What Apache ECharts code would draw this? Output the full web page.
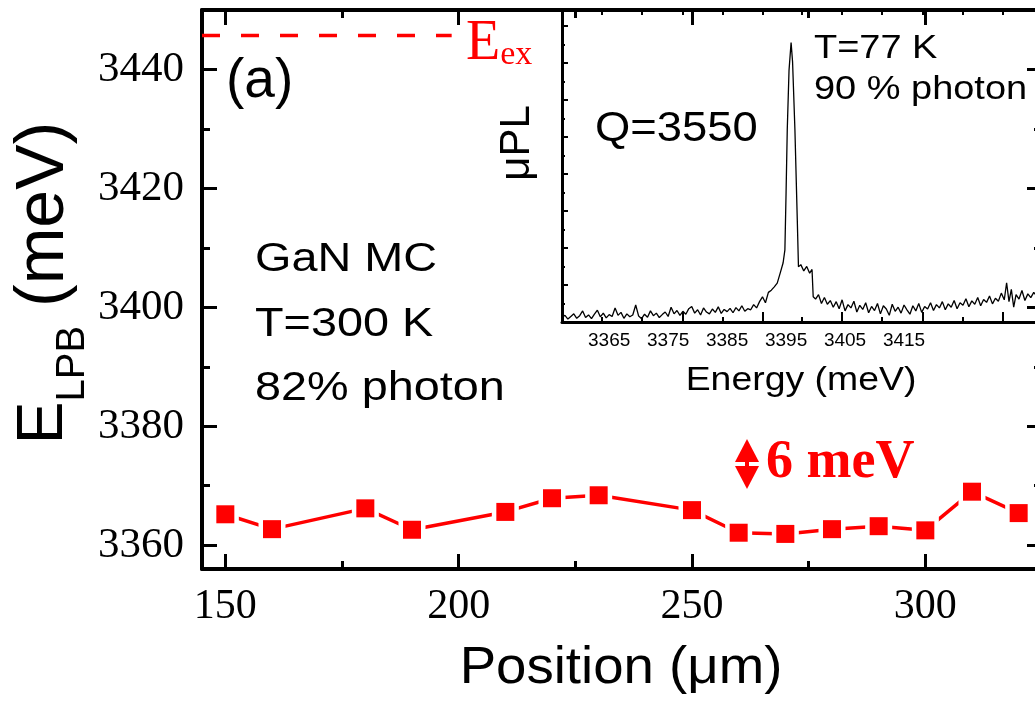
<!DOCTYPE html>
<html><head><meta charset="utf-8">
<script src="https://cdn.jsdelivr.net/npm/echarts@6/dist/echarts.min.js"></script>
<style>html,body{margin:0;padding:0;background:#fff}#c{width:1035px;height:701px}</style>
</head><body><div id="c"></div>
<script>
// ---- main panel data ----
const positions = [150,160,180,190,210,220,230,250,260,270,280,290,300,310,320];
const lpbEnergies = [3365.2,3362.7,3366.2,3362.6,3365.6,3367.9,3368.4,3365.9,3362.1,3361.9,3362.7,3363.2,3362.5,3369.0,3365.4];
const excitonEnergy = 3445.7;
const excitonLineX = [145, 198.5];
const xMajorTicks = [150,200,250,300];
const xMinorTicks = [175,225,275];
const yMajorTicks = [3360,3380,3400,3420,3440];
const yMinorTicks = [3370,3390,3410,3430];
// ---- inset spectrum data ----
const specEnergy = [
3357.0,3357.5,3358.0,3358.5,3359.0,3359.5,3360.0,3360.5,3361.0,3361.5,3362.0,3362.5,3363.0,3363.5,3364.0,3364.5,3365.0,3365.5,3366.0,3366.5,
3367.0,3367.5,3368.0,3368.5,3369.0,3369.5,3370.0,3370.5,3371.0,3371.5,3372.0,3372.5,3373.0,3373.5,3374.0,3374.5,3375.0,3375.5,3376.0,3376.5,
3377.0,3377.5,3378.0,3378.5,3379.0,3379.5,3380.0,3380.5,3381.0,3381.5,3382.0,3382.5,3383.0,3383.5,3384.0,3384.5,3385.0,3385.5,3386.0,3386.5,
3387.0,3387.5,3388.0,3388.5,3389.0,3389.5,3390.0,3390.5,3391.0,3391.5,3392.0,3392.5,3393.0,3393.5,3394.0,3394.5,3394.8,3395.0,3395.2,3395.5,
3395.85,3396.1,3396.5,3396.9,3397.1,3397.5,3398.0,3398.5,3399.0,3399.4,3399.6,3400.0,3400.5,3401.0,3401.5,3402.0,3402.5,3403.0,3403.5,3404.0,
3404.5,3405.0,3405.5,3406.0,3406.5,3407.0,3407.5,3408.0,3408.5,3409.0,3409.5,3410.0,3410.5,3411.0,3411.5,3412.0,3412.5,3413.0,3413.5,3414.0,
3414.5,3415.0,3415.5,3416.0,3416.5,3417.0,3417.5,3418.0,3418.5,3419.0,3419.5,3420.0,3420.5,3421.0,3421.5,3422.0,3422.5,3423.0,3423.5,3424.0,
3424.5,3425.0,3425.5,3426.0,3426.5,3427.0,3427.5,3428.0,3428.5,3429.0,3429.5,3430.0,3430.5,3431.0,3431.5,3432.0,3432.4,3432.8,3433.2,3433.6,
3434.0,3434.5,3435.0,3435.5,3436.0,3436.5,3437.0,3437.5,3438.0];
const specIntensity = [
0.12,0.18,0.08,0.15,0.22,0.10,0.17,0.30,0.12,0.19,0.09,0.21,0.32,0.14,0.24,0.11,0.20,0.15,0.38,0.18,
0.26,0.10,0.22,0.14,0.19,0.46,0.16,0.09,0.21,0.13,0.30,0.17,0.24,0.12,0.20,0.27,0.15,0.40,0.22,0.31,
0.18,0.29,0.21,0.36,0.42,0.24,0.33,0.19,0.38,0.27,0.22,0.35,0.26,0.41,0.23,0.34,0.28,0.37,0.25,0.39,
0.30,0.44,0.29,0.36,0.33,0.47,0.38,0.55,0.68,0.52,0.80,0.86,0.95,1.05,1.32,1.60,1.95,3.50,5.19,6.80,
7.55,7.03,5.19,2.76,1.49,1.55,1.38,1.50,1.32,1.42,0.68,0.62,0.74,0.50,0.66,0.48,0.58,0.40,0.55,0.36,
0.60,0.30,0.47,0.38,0.56,0.27,0.45,0.34,0.52,0.25,0.42,0.31,0.50,0.22,0.44,0.35,0.18,0.48,0.29,0.40,
0.24,0.46,0.33,0.21,0.44,0.30,0.50,0.26,0.42,0.35,0.52,0.31,0.47,0.38,0.55,0.33,0.49,0.40,0.58,0.36,
0.52,0.45,0.63,0.41,0.57,0.48,0.66,0.44,0.61,0.53,0.70,0.49,0.64,0.56,0.78,0.60,1.06,0.55,0.88,0.40,
0.74,0.62,0.85,0.58,0.76,0.66,0.80,0.70,0.78];
const insetXLabels = [3365,3375,3385,3395,3405,3415];
const insetXTicks = [3363.8,3370.6,3377.4,3384.2,3391.0,3397.7,3404.5,3411.3,3418.1,3424.9,3431.7];
const insetXMajorTicks = [3377.4,3391.0,3404.5,3418.1,3431.7];
const insetYMajor = [0,1,2,3,4,5,6,7,8];
const insetYMinor = [0.5,1.5,2.5,3.5,4.5,5.5,6.5,7.5];

const BLACK = '#000', RED = '#ff0000';
const serif = 'Liberation Serif';
const sans = 'Liberation Sans';

function tickAxis(o) {
  return {
    type: 'value', gridIndex: o.grid, position: o.pos, min: o.min, max: o.max,
    axisLine: { show: !!o.lineW, onZero: false, lineStyle: { color: BLACK, width: o.lineW || 1 } },
    axisTick: { show: true, inside: true, length: o.len, customValues: o.ticks, lineStyle: { color: BLACK, width: o.tickW } },
    axisLabel: o.labels ? Object.assign({ show: true, customValues: o.labels, color: BLACK, formatter: v => String(v) }, o.labelStyle) : { show: false },
    splitLine: { show: false }
  };
}

const xAxes = [
  tickAxis({ grid: 0, pos: 'bottom', min: 145, max: 325, lineW: 4, len: 15, tickW: 3, ticks: xMajorTicks, labels: xMajorTicks,
    labelStyle: { fontFamily: serif, fontSize: 42, margin: 17 } }),
  tickAxis({ grid: 0, pos: 'bottom', min: 145, max: 325, len: 8, tickW: 3, ticks: xMinorTicks }),
  tickAxis({ grid: 0, pos: 'top', min: 145, max: 325, lineW: 4, len: 15, tickW: 3, ticks: xMajorTicks }),
  tickAxis({ grid: 0, pos: 'top', min: 145, max: 325, len: 8, tickW: 3, ticks: xMinorTicks }),
  tickAxis({ grid: 1, pos: 'bottom', min: 3357, max: 3438.4, lineW: 3, len: 0.01, tickW: 0, ticks: [], labels: insetXLabels,
    labelStyle: { fontFamily: sans, fontSize: 19, margin: 9 } }),
  tickAxis({ grid: 1, pos: 'bottom', min: 3357, max: 3438.4, len: 5, tickW: 2, ticks: insetXTicks }),
  tickAxis({ grid: 1, pos: 'bottom', min: 3357, max: 3438.4, len: 10, tickW: 2, ticks: insetXMajorTicks }),
  tickAxis({ grid: 1, pos: 'top', min: 3357, max: 3438.4, len: 5, tickW: 2, ticks: insetXTicks })
];
const yAxes = [
  tickAxis({ grid: 0, pos: 'left', min: 3356, max: 3450, lineW: 4, len: 15, tickW: 3, ticks: yMajorTicks, labels: yMajorTicks,
    labelStyle: { fontFamily: serif, fontSize: 43, margin: 18 } }),
  tickAxis({ grid: 0, pos: 'left', min: 3356, max: 3450, len: 8, tickW: 3, ticks: yMinorTicks }),
  tickAxis({ grid: 0, pos: 'right', min: 3356, max: 3450, lineW: 4, len: 15, tickW: 3, ticks: yMajorTicks }),
  tickAxis({ grid: 0, pos: 'right', min: 3356, max: 3450, len: 8, tickW: 3, ticks: yMinorTicks }),
  tickAxis({ grid: 1, pos: 'left', min: 0, max: 8.43, lineW: 3, len: 6, tickW: 2, ticks: insetYMajor }),
  tickAxis({ grid: 1, pos: 'left', min: 0, max: 8.43, len: 3, tickW: 2, ticks: insetYMinor })
];

const lpbData = positions.map((p, i) => [p, lpbEnergies[i]]);
const specData = specEnergy.map((e, i) => [e, specIntensity[i]]);

function txt(x, y, text, font, opts) {
  return Object.assign({ type: 'text', x: x, y: y, z: 100,
    style: Object.assign({ text: text, font: font, fill: BLACK, textAlign: 'left', textVerticalAlign: 'middle' }, (opts && opts.style) || {}) },
    (opts && opts.el) || {});
}

const option = {
  animation: false,
  backgroundColor: '#fff',
  grid: [
    { left: 202, top: 10, width: 840, height: 559, containLabel: false, outerBoundsMode: 'none' },
    { left: 562, top: 10, width: 480, height: 312, containLabel: false, outerBoundsMode: 'none' }
  ],
  xAxis: xAxes,
  yAxis: yAxes,
  series: [
    { type: 'line', xAxisIndex: 0, yAxisIndex: 0, data: lpbData, showSymbol: false, z: 2,
      lineStyle: { color: RED, width: 3.5 } },
    { type: 'scatter', xAxisIndex: 0, yAxisIndex: 0, data: lpbData, symbol: 'rect', symbolSize: 27, z: 3,
      itemStyle: { color: '#fff', opacity: 1 } },
    { type: 'scatter', xAxisIndex: 0, yAxisIndex: 0, data: lpbData, symbol: 'rect', symbolSize: 18, z: 4,
      itemStyle: { color: RED, opacity: 1 } },
    { type: 'line', xAxisIndex: 0, yAxisIndex: 0, data: excitonLineX.map(x => [x, excitonEnergy]), showSymbol: false, z: 2,
      lineStyle: { color: RED, width: 3.5, type: [18, 21] } },
    { type: 'line', xAxisIndex: 4, yAxisIndex: 4, data: specData, showSymbol: false, z: 2,
      lineStyle: { color: BLACK, width: 1.3 } }
  ],
  graphic: [
    txt(226, 82, '(a)', '55px ' + sans),
    txt(255, 260, 'GaN MC', '40px ' + sans, { el: { scaleX: 1.17 } }),
    txt(255, 325, 'T=300 K', '40px ' + sans, { el: { scaleX: 1.17 } }),
    txt(255, 389, '82% photon', '40px ' + sans, { el: { scaleX: 1.17 } }),
    txt(595, 129, 'Q=3550', '42px ' + sans, { el: { scaleX: 1.08 } }),
    txt(814, 49, 'T=77 K', '33px ' + sans, { el: { scaleX: 1.15 } }),
    txt(814, 90, '90 % photon', '33px ' + sans, { el: { scaleX: 1.15 } }),
    txt(517, 143, 'μPL', '42px ' + sans, { el: { rotation: Math.PI / 2 }, style: { textAlign: 'center' } }),
    txt(801, 381, 'Energy (meV)', '34px ' + sans, { el: { scaleX: 1.1 }, style: { textAlign: 'center' } }),
    txt(621, 669, 'Position (μm)', '52px ' + sans, { el: { scaleX: 1.05 }, style: { textAlign: 'center' } }),
    { type: 'text', x: 44, y: 283, z: 100, rotation: Math.PI / 2,
      style: { text: '{e|E}{s|LPB}{n| (meV)}', textAlign: 'center', textVerticalAlign: 'middle',
        rich: { e: { font: '64px ' + sans, fill: BLACK }, s: { font: '40px ' + sans, fill: BLACK, padding: [58, 0, 0, 0] }, n: { font: '68px ' + sans, fill: BLACK } } } },
    { type: 'text', x: 466, y: 44, z: 100,
      style: { text: '{e|E}{s|ex}', textAlign: 'left', textVerticalAlign: 'middle',
        rich: { e: { font: '56px ' + serif, fill: RED }, s: { font: '34px ' + serif, fill: RED, padding: [22, 0, 0, 0] } } } },
    txt(766, 463, '6 meV', 'bold 54px ' + serif, { style: { fill: RED } }),
    { type: 'polygon', z: 100, shape: { points: [[735, 462], [747, 439], [759, 462]] }, style: { fill: RED } },
    { type: 'polygon', z: 100, shape: { points: [[735, 466], [747, 489], [759, 466]] }, style: { fill: RED } },
    { type: 'rect', z: 100, shape: { x: 745, y: 460, width: 4, height: 8 }, style: { fill: RED } }
  ]
};
const chart = echarts.init(document.getElementById('c'), null, { renderer: 'canvas' });
chart.setOption(option);
</script></body></html>
